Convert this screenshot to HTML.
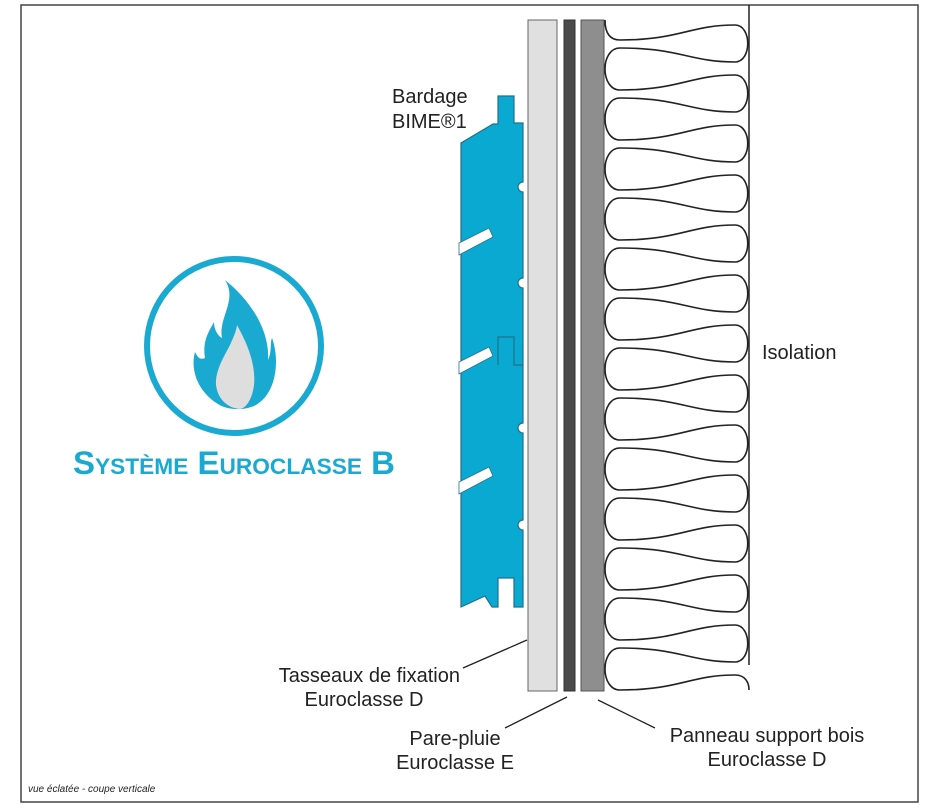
<!DOCTYPE html>
<html><head><meta charset="utf-8"><style>
html,body{margin:0;padding:0;background:#fff;}
svg{display:block}
text{font-family:"Liberation Sans",sans-serif;fill:#222;}
</style></head><body>
<svg width="940" height="808" viewBox="0 0 940 808" xmlns="http://www.w3.org/2000/svg">
<rect x="21" y="5" width="897" height="797" fill="#fff" stroke="#444" stroke-width="1.5"/>
<!-- layers -->
<rect x="528" y="20" width="29" height="671" fill="#e0e0e0" stroke="#666" stroke-width="1"/>
<rect x="564" y="20" width="11" height="671" fill="#4a4a4a" stroke="#333" stroke-width="1"/>
<rect x="581" y="20" width="23" height="671" fill="#8e8e8e" stroke="#555" stroke-width="1"/>
<line x1="749" y1="5" x2="749" y2="665" stroke="#222" stroke-width="1.5"/>
<path fill="none" stroke="#222" stroke-width="1.6" d="M605 20 C605 33 610 40 620 40
C680 40 690 25 735 25 C752 25 752 62 735 62 C690 62 680 48 620 48 C600 48 600 90 620 90
C680 90 690 75 735 75 C752 75 752 112 735 112 C690 112 680 98 620 98 C600 98 600 140 620 140
C680 140 690 125 735 125 C752 125 752 162 735 162 C690 162 680 148 620 148 C600 148 600 190 620 190
C680 190 690 175 735 175 C752 175 752 212 735 212 C690 212 680 198 620 198 C600 198 600 240 620 240
C680 240 690 225 735 225 C752 225 752 262 735 262 C690 262 680 248 620 248 C600 248 600 290 620 290
C680 290 690 275 735 275 C752 275 752 312 735 312 C690 312 680 298 620 298 C600 298 600 340 620 340
C680 340 690 325 735 325 C752 325 752 362 735 362 C690 362 680 348 620 348 C600 348 600 390 620 390
C680 390 690 375 735 375 C752 375 752 412 735 412 C690 412 680 398 620 398 C600 398 600 440 620 440
C680 440 690 425 735 425 C752 425 752 462 735 462 C690 462 680 448 620 448 C600 448 600 490 620 490
C680 490 690 475 735 475 C752 475 752 512 735 512 C690 512 680 498 620 498 C600 498 600 540 620 540
C680 540 690 525 735 525 C752 525 752 562 735 562 C690 562 680 548 620 548 C600 548 600 590 620 590
C680 590 690 575 735 575 C752 575 752 612 735 612 C690 612 680 598 620 598 C600 598 600 640 620 640
C680 640 690 625 735 625 C752 625 752 662 735 662 C690 662 680 648 620 648 C600 648 600 690 620 690
C680 690 690 675 735 675 C745 675 749 682 749 690"/>
<!-- cladding -->
<path fill="#0aa9d2" stroke="#23708a" stroke-width="1.2" d="M498 96 L514 96 L514 123 L523 123 L523 182 A5 5 0 0 0 523 192 L523 278 A5 5 0 0 0 523 288 L523 423 A5 5 0 0 0 523 433 L523 520 A5 5 0 0 0 523 530 L523 607 L514 607 L514 578 L498 578 L498 607 L492 607 L485 596 L461 607 L461 143 L493 124 L498 124 Z"/>
<path fill="none" stroke="#23708a" stroke-width="1.2" d="M498 365 L498 337 L514 337 L514 365 L523 365"/>
<g fill="#fff" stroke="#23708a" stroke-width="0.8">
<polygon points="459,243 489,228 493,237 459,255"/>
<polygon points="459,362 489,347 493,356 459,374"/>
<polygon points="459,482 489,467 493,476 459,494"/>
</g>
<!-- labels -->
<text x="392" y="103" font-size="20">Bardage</text>
<text x="392" y="128" font-size="20">BIME®1</text>
<text x="762" y="359" font-size="20">Isolation</text>
<text x="460" y="682" font-size="20" text-anchor="end">Tasseaux de fixation</text>
<text x="364" y="706" font-size="20" text-anchor="middle">Euroclasse D</text>
<text x="455" y="745" font-size="20" text-anchor="middle">Pare-pluie</text>
<text x="455" y="769" font-size="20" text-anchor="middle">Euroclasse E</text>
<text x="767" y="742" font-size="20" text-anchor="middle">Panneau support bois</text>
<text x="767" y="766" font-size="20" text-anchor="middle">Euroclasse D</text>
<text x="28" y="792" font-size="10" font-style="italic">vue éclatée - coupe verticale</text>
<g stroke="#222" stroke-width="1.3">
<line x1="463" y1="668" x2="527" y2="640"/>
<line x1="505" y1="728" x2="567" y2="697"/>
<line x1="598" y1="700" x2="655" y2="728"/>
</g>
<!-- logo -->
<circle cx="234" cy="346" r="87" fill="none" stroke="#19a9d1" stroke-width="6"/>
<path fill="#19a9d1" d="M225 280 C250 300 270 330 268 360 C272 352 270 342 272 338 C280 360 276 390 260 402 C252 410 230 412 218 404 C198 392 190 370 195 352 C198 358 200 360 205 358 C202 340 210 330 214 322 C214 330 218 336 222 338 C218 318 238 300 225 280 Z"/>
<path fill="#dedede" d="M237 325 C248 345 256 365 254 385 C252 400 246 408 240 409 C228 408 218 400 216 385 C215 370 225 355 230 345 C232 340 236 333 237 325 Z"/>
<text x="234" y="474" font-size="32" font-weight="bold" text-anchor="middle" style="fill:#19a9d1;font-variant:small-caps" textLength="322" lengthAdjust="spacingAndGlyphs">Système Euroclasse B</text>
</svg>
</body></html>
